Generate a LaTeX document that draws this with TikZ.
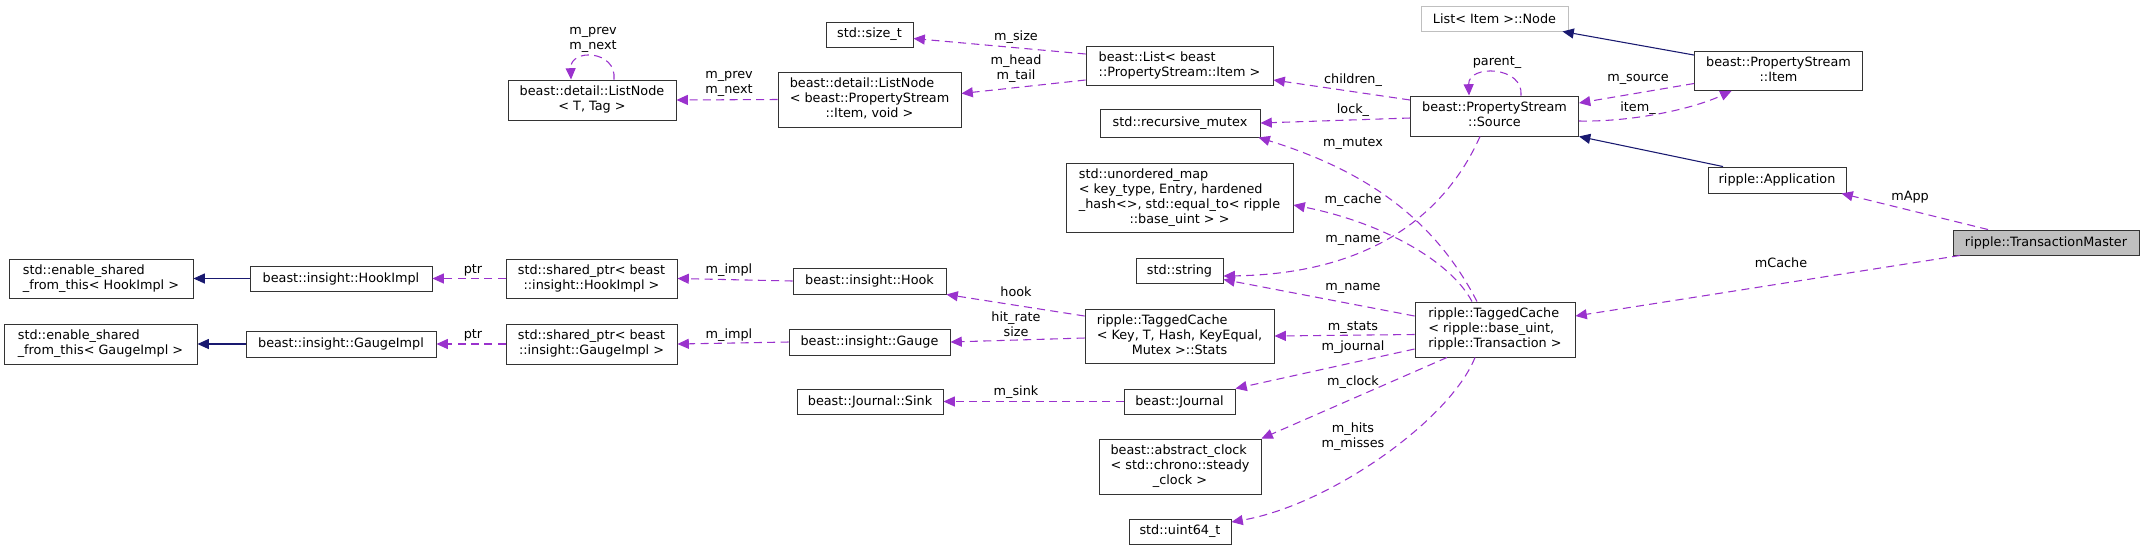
\documentclass[tikz,border=0pt]{standalone}
\usepackage{fontspec}
\setmainfont{DejaVu Sans}
\usetikzlibrary{arrows.meta, calc}
\definecolor{member}{HTML}{9A32CD}
\definecolor{inherit}{HTML}{191970}
\definecolor{grey75}{HTML}{BFBFBF}
\newcommand{\dxfont}{\fontsize{9.6}{11.25}\selectfont}
\newcommand{\dxlines}[2]{\begin{tabular}{@{}l@{}}#1\\\multicolumn{1}{@{}c@{}}{#2}\end{tabular}}

\begin{document}
\begin{tikzpicture}[
    x=0.75pt, y=-0.75pt,
    font=\dxfont,
    cls/.style 2 args={draw=black!80, line width=0.7pt, fill=white, inner sep=0pt,
                       minimum width=#1*0.75pt, minimum height=#2*0.75pt},
    lbl/.style={inner sep=0pt, align=center},
    mem/.style={draw=member, line width=0.8pt, dash pattern=on 6pt off 4pt,
                -{Triangle[length=8.5pt, width=7.5pt]}},
    inh/.style={draw=inherit, line width=0.8pt, -{Triangle[length=8.5pt, width=7.5pt]}},
  ]
  \useasboundingbox (0,0) rectangle (2144,551);

  \node[cls={168}{40}] (lnT) at (592,100) {\dxlines{beast::detail::ListNode}{< T, Tag >}};
  \node[cls={183}{55}] (lnPS) at (869.5,99.5) {\dxlines{beast::detail::ListNode\\< beast::PropertyStream}{::Item, void >}};
  \node[cls={87}{25}] (sizet) at (869.5,34.5) {std::size\_t};
  \node[cls={187}{39}] (blist) at (1179.5,65.5) {\dxlines{beast::List< beast}{::PropertyStream::Item >}};
  \node[cls={160}{28}] (rmutex) at (1180,123) {std::recursive\_mutex};
  \node[cls={147}{25}, draw=grey75] (lnode) at (1494.5,18.5) {List< Item >::Node};
  \node[cls={168}{39}] (psitem) at (1778.5,71) {\dxlines{beast::PropertyStream}{::Item}};
  \node[cls={168}{40}] (pssource) at (1494.5,116) {\dxlines{beast::PropertyStream}{::Source}};
  \node[cls={138}{26}] (app) at (1777,180) {ripple::Application};
  \node[cls={186}{25}, fill=grey75] (tmaster) at (2046,242.5) {ripple::TransactionMaster};
  \node[cls={227}{69}] (umap) at (1179.5,197.5) {\dxlines{std::unordered\_map\\< key\_type, Entry, hardened\\\_hash<>, std::equal\_to< ripple}{::base\_uint > >}};
  \node[cls={87}{25}] (stdstring) at (1179.5,270.5) {std::string};
  \node[cls={160}{55}] (tcache) at (1495,329.5) {\dxlines{ripple::TaggedCache\\< ripple::base\_uint,}{ripple::Transaction >}};
  \node[cls={189}{54}] (stats) at (1179.5,336) {\dxlines{ripple::TaggedCache\\< Key, T, Hash, KeyEqual,}{Mutex >::Stats}};
  \node[cls={153}{26}] (hook) at (869.5,281) {beast::insight::Hook};
  \node[cls={161}{26}] (gauge) at (869.5,342) {beast::insight::Gauge};
  \node[cls={171}{39}] (spHook) at (591.5,278.5) {\dxlines{std::shared\_ptr< beast}{::insight::HookImpl >}};
  \node[cls={171}{40}] (spGauge) at (591.5,344) {\dxlines{std::shared\_ptr< beast}{::insight::GaugeImpl >}};
  \node[cls={182}{25}] (hookImpl) at (341,278.5) {beast::insight::HookImpl};
  \node[cls={190}{26}] (gaugeImpl) at (341,344) {beast::insight::GaugeImpl};
  \node[cls={184}{39}] (esfHook) at (101,278.5) {\dxlines{std::enable\_shared}{\_from\_this< HookImpl >}};
  \node[cls={193}{40}] (esfGauge) at (100.5,344) {\dxlines{std::enable\_shared}{\_from\_this< GaugeImpl >}};
  \node[cls={146}{25}] (sink) at (870,401.5) {beast::Journal::Sink};
  \node[cls={111}{25}] (journal) at (1179.5,401.5) {beast::Journal};
  \node[cls={162}{55}] (aclock) at (1180,466.5) {\dxlines{beast::abstract\_clock\\< std::chrono::steady}{\_clock >}};
  \node[cls={102}{25}] (uint64) at (1180,531.5) {std::uint64\_t};

  \draw[mem] ($(tmaster.north)+(-58,0)$) -- ($(app.south east)+(-5,0)$);
  \draw[mem] ($(tmaster.south)+(-86,0)$) -- ($(tcache.east)+(0,-13.5)$);
  \draw[inh] ($(app.north)+(-54,0)$) -- (pssource.south east);
  \draw[inh] ($(psitem.north west)+(0,4)$) -- ($(lnode.south east)+(-6,0)$);
  \draw[mem] ($(pssource.east)+(0,5)$) .. controls (1630,122) and (1690,110) .. ($(psitem.south)+(-47,0)$);
  \draw[mem] ($(psitem.west)+(0,12.5)$) -- ($(pssource.east)+(0,-13)$);
  \draw[mem] ($(pssource.north)+(26.5,0)$) .. controls (1524,66) and (1468,64) .. ($(pssource.north)+(-25.5,0)$);
  \draw[mem] ($(pssource.west)+(0,-16)$) -- ($(blist.east)+(0,14.5)$);
  \draw[mem] ($(pssource.west)+(0,2)$) -- (rmutex.east);
  \draw[mem] ($(pssource.south)+(-14.5,0)$) .. controls (1445,215) and (1370,274) .. ($(stdstring.east)+(0,5.5)$);
  \draw[mem] ($(blist.west)+(0,-11.5)$) -- ($(sizet.east)+(0,4)$);
  \draw[mem] ($(blist.west)+(0,14.5)$) -- ($(lnPS.east)+(0,-6)$);
  \draw[mem] (lnPS.west) -- (lnT.east);
  \draw[mem] ($(lnT.north)+(22,0)$) .. controls (617,50) and (570,48) .. ($(lnT.north)+(-21,0)$);
  \draw[mem] ($(tcache.north)+(-18,0)$) .. controls (1440,230) and (1380,175) .. ($(rmutex.south east)+(-2,0)$);
  \draw[mem] ($(tcache.north)+(-23,0)$) .. controls (1450,260) and (1380,222) .. ($(umap.east)+(0,7.5)$);
  \draw[mem] ($(tcache.west)+(0,-13.5)$) -- ($(stdstring.east)+(0,9)$);
  \draw[mem] ($(tcache.west)+(0,5)$) -- (stats.east);
  \draw[mem] ($(tcache.west)+(0,19.5)$) -- (journal.north east);
  \draw[mem] ($(tcache.south)+(-48,0)$) -- (aclock.north east);
  \draw[mem] ($(tcache.south)+(-20,0)$) .. controls (1450,420) and (1330,505) .. ($(uint64.east)+(0,-9.5)$);
  \draw[mem] ($(stats.west)+(0,-20)$) -- (hook.south east);
  \draw[mem] ($(stats.west)+(0,2)$) -- (gauge.east);
  \draw[mem] (hook.west) -- (spHook.east);
  \draw[mem] (gauge.west) -- (spGauge.east);
  \draw[mem] (spHook.west) -- (hookImpl.east);
  \draw[mem] (spGauge.west) -- (gaugeImpl.east);
  \draw[inh] (hookImpl.west) -- (esfHook.east);
  \draw[inh] (gaugeImpl.west) -- (esfGauge.east);
  \draw[mem] (journal.west) -- (sink.east);

  \node[lbl] (lLoopT) at (593,40) {m\_prev\\m\_next};
  \node[lbl] (lPrev) at (729,84) {m\_prev\\m\_next};
  \node[lbl] (lSize) at (1016,37) {m\_size};
  \node[lbl] (lHead) at (1016,69) {m\_head\\m\_tail};
  \node[lbl] (lChildren) at (1353,80) {children\_};
  \node[lbl] (lLock) at (1353,110) {lock\_};
  \node[lbl] (lMutex) at (1353,144) {m\_mutex};
  \node[lbl] (lCache) at (1353,200) {m\_cache};
  \node[lbl] (lNameA) at (1353,240) {m\_name};
  \node[lbl] (lNameB) at (1353,288) {m\_name};
  \node[lbl] (lStats) at (1353,328) {m\_stats};
  \node[lbl] (lJournal) at (1353,347) {m\_journal};
  \node[lbl] (lClock) at (1353,382) {m\_clock};
  \node[lbl] (lHits) at (1353,437) {m\_hits\\m\_misses};
  \node[lbl] (lParent) at (1497,63) {parent\_};
  \node[lbl] (lSource) at (1638,79) {m\_source};
  \node[lbl] (lItem) at (1638,108) {item\_};
  \node[lbl] (lApp) at (1910,197) {mApp};
  \node[lbl] (lMCache) at (1781,263) {mCache};
  \node[lbl] (lHook) at (1016,292) {hook};
  \node[lbl] (lRate) at (1016,324) {hit\_rate\\size};
  \node[lbl] (lImplA) at (729,270) {m\_impl};
  \node[lbl] (lImplB) at (729,335) {m\_impl};
  \node[lbl] (lPtrA) at (473,270) {ptr};
  \node[lbl] (lPtrB) at (473,335) {ptr};
  \node[lbl] (lSink) at (1016,392) {m\_sink};
\end{tikzpicture}
\end{document}
